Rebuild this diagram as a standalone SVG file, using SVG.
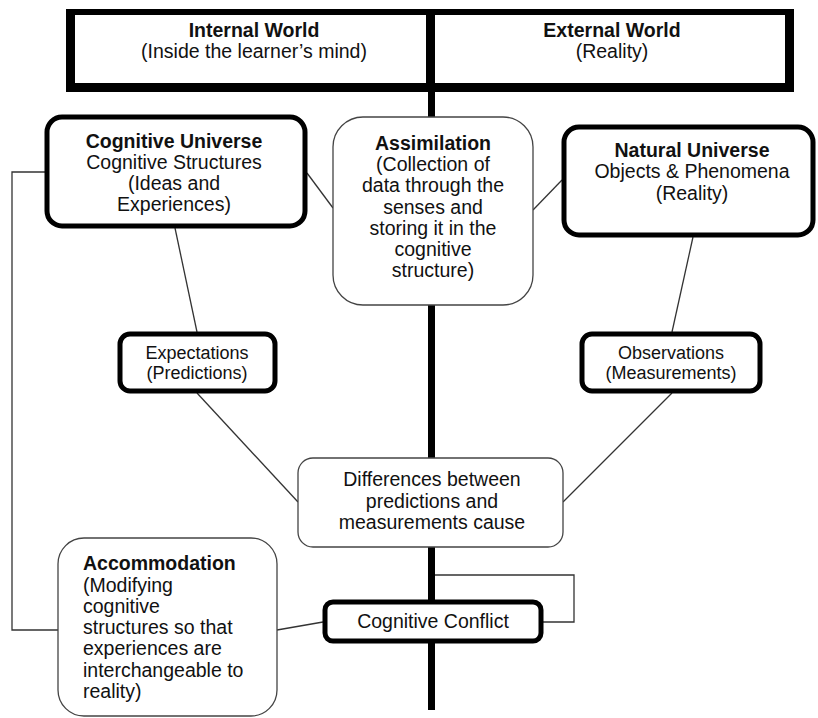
<svg xmlns="http://www.w3.org/2000/svg" width="818" height="718" viewBox="0 0 818 718">
<style>
text{font-family:"Liberation Sans",Arial,sans-serif;fill:#111;}
.t{font-size:19.5px;text-anchor:middle;}
.b{font-weight:bold;}
.s{font-size:18px;text-anchor:middle;}
.l{font-size:19.5px;text-anchor:start;}
.thick{fill:#fff;stroke:#000;stroke-width:5;}
.thin{fill:#fff;stroke:#444;stroke-width:1.3;}
.con{fill:none;stroke:#333;stroke-width:1.3;}
</style>
<rect width="818" height="718" fill="#fff"/>
<g id="header">
<rect x="66" y="9" width="728" height="83" fill="#fff"/>
<rect x="66" y="9" width="728" height="6" fill="#000"/>
<rect x="66" y="83" width="728" height="9" fill="#000"/>
<rect x="66" y="9" width="9" height="83" fill="#000"/>
<rect x="785" y="9" width="9" height="83" fill="#000"/>
<rect x="426" y="9" width="9" height="83" fill="#000"/>
<text class="t b" x="254" y="37">Internal World</text>
<text class="t" x="254" y="58">(Inside the learner’s mind)</text>
<text class="t b" x="612" y="37">External World</text>
<text class="t" x="612" y="58">(Reality)</text>
</g>
<g id="spine">
<rect x="428" y="92" width="7" height="618" fill="#000"/>
</g>
<g id="connectors">
<line class="con" x1="307" y1="173" x2="333" y2="208"/>
<line class="con" x1="533" y1="210" x2="562" y2="180"/>
<line class="con" x1="175" y1="228" x2="197" y2="332"/>
<line class="con" x1="693" y1="237" x2="672" y2="332"/>
<line class="con" x1="197" y1="393" x2="298" y2="502"/>
<line class="con" x1="672" y1="393" x2="563" y2="502"/>
<polyline class="con" points="45,172 12,172 12,630 58,630"/>
<line class="con" x1="277" y1="630" x2="323" y2="622"/>
<polyline class="con" points="435,575 574,575 574,622 543,622"/>
</g>
<g id="cognitive-universe">
<rect class="thick" x="47" y="117" width="258" height="109" rx="15"/>
<text class="t b" x="174" y="148">Cognitive Universe</text>
<text class="t" x="174" y="169">Cognitive Structures</text>
<text class="t" x="174" y="190">(Ideas and</text>
<text class="t" x="174" y="211">Experiences)</text>
</g>
<g id="assimilation">
<rect class="thin" x="333" y="117" width="200" height="188" rx="30"/>
<text class="t b" x="433" y="150">Assimilation</text>
<text class="t" x="433" y="171">(Collection of</text>
<text class="t" x="433" y="192">data through the</text>
<text class="t" x="433" y="214">senses and</text>
<text class="t" x="433" y="235">storing it in the</text>
<text class="t" x="433" y="256">cognitive</text>
<text class="t" x="433" y="277">structure)</text>
</g>
<g id="natural-universe">
<rect class="thick" x="564" y="127" width="249" height="108" rx="15"/>
<text class="t b" x="692" y="157">Natural Universe</text>
<text class="t" x="692" y="178">Objects &amp; Phenomena</text>
<text class="t" x="692" y="200">(Reality)</text>
</g>
<g id="expectations">
<rect class="thick" x="120" y="334" width="155" height="57" rx="10"/>
<text class="s" x="197" y="359">Expectations</text>
<text class="s" x="197" y="379">(Predictions)</text>
</g>
<g id="observations">
<rect class="thick" x="582" y="334" width="178" height="57" rx="10"/>
<text class="s" x="671" y="359">Observations</text>
<text class="s" x="671" y="379">(Measurements)</text>
</g>
<g id="differences">
<rect class="thin" x="298" y="458" width="265" height="89" rx="15"/>
<text class="t" x="432" y="486">Differences between</text>
<text class="t" x="432" y="508">predictions and</text>
<text class="t" x="432" y="529">measurements cause</text>
</g>
<g id="accommodation">
<rect class="thin" x="58" y="538" width="219" height="178" rx="26"/>
<text class="l b" x="83" y="570">Accommodation</text>
<text class="l" x="83" y="592">(Modifying</text>
<text class="l" x="83" y="613">cognitive</text>
<text class="l" x="83" y="634">structures so that</text>
<text class="l" x="83" y="655">experiences are</text>
<text class="l" x="83" y="677">interchangeable to</text>
<text class="l" x="83" y="698">reality)</text>
</g>
<g id="cognitive-conflict">
<rect class="thick" x="325" y="602" width="216" height="39" rx="8"/>
<text class="t" x="433" y="628">Cognitive Conflict</text>
</g>
</svg>
